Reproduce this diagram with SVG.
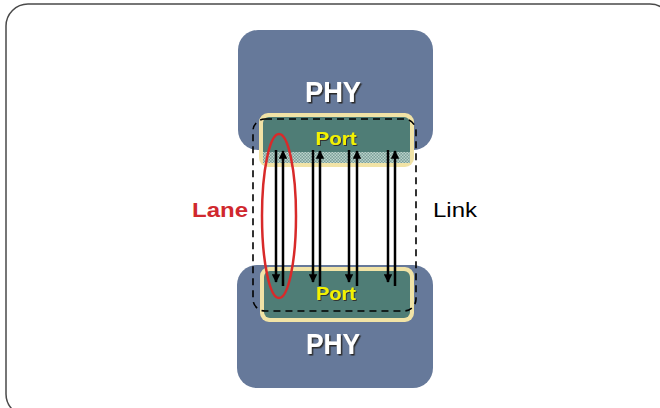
<svg xmlns="http://www.w3.org/2000/svg" width="660" height="408" viewBox="0 0 660 408">
<style>
.phy{fill:#66799a;}
.portOuter{fill:#f1e3a6;}
.portInner{fill:#4f7d76;}
.phyTxt{font-family:"Liberation Sans",Arial,sans-serif;font-weight:bold;font-size:30px;fill:#ffffff;}
.portTxt{font-family:"Liberation Sans",Arial,sans-serif;font-weight:bold;font-size:18px;fill:#f2f200;}
.lbl{font-family:"Liberation Sans",Arial,sans-serif;font-size:21px;}
.ln{stroke:#000;stroke-width:2.5;fill:none;}
</style>
<defs>
<filter id="sh" x="-20%" y="-20%" width="140%" height="140%">
<feDropShadow dx="1.5" dy="1.5" stdDeviation="0.4" flood-color="#2a2a2a" flood-opacity="1"/>
</filter>
<filter id="sh2" x="-20%" y="-20%" width="140%" height="140%">
<feDropShadow dx="1" dy="1" stdDeviation="0.3" flood-color="#333" flood-opacity="1"/>
</filter>
<pattern id="hatch" width="3" height="3" patternUnits="userSpaceOnUse">
<rect width="3" height="3" fill="#7a9f98"/>
<rect width="1.5" height="1.5" fill="#bcd3cc"/>
<rect x="1.5" y="1.5" width="1.5" height="1.5" fill="#bcd3cc"/>
</pattern>
<marker id="ah" viewBox="0 0 10 10" refX="9" refY="5" markerWidth="3.4" markerHeight="3.4" orient="auto" markerUnits="strokeWidth">
<path d="M0,0 L10,5 L0,10 z" fill="#000"/>
</marker>
</defs>

<rect x="6" y="4" width="666" height="412" rx="22" fill="none" stroke="#4a4a4a" stroke-width="1.5"/>

<g id="phy-top">
<rect class="phy" x="238" y="30" width="195" height="120" rx="20"/>
<text class="phyTxt" x="333" y="102" text-anchor="middle" textLength="56" lengthAdjust="spacingAndGlyphs" filter="url(#sh)">PHY</text>
</g>
<g id="phy-bottom">
<rect class="phy" x="237" y="265" width="196" height="123" rx="20"/>
<text class="phyTxt" x="333" y="354" text-anchor="middle" textLength="54" lengthAdjust="spacingAndGlyphs" filter="url(#sh)">PHY</text>
</g>

<g id="port-top">
<rect class="portOuter" x="259" y="113" width="155" height="54" rx="9"/>
<rect class="portInner" x="263" y="117" width="147" height="46" rx="6"/>
<rect x="263" y="152" width="147" height="11" fill="url(#hatch)"/>
<text class="portTxt" x="336" y="145" text-anchor="middle" textLength="41" lengthAdjust="spacingAndGlyphs" filter="url(#sh2)">Port</text>
</g>
<g id="port-bottom">
<rect class="portOuter" x="260" y="267" width="154" height="55" rx="9"/>
<rect class="portInner" x="264" y="271" width="146" height="47" rx="6"/>
<text class="portTxt" x="336" y="300" text-anchor="middle" textLength="40" lengthAdjust="spacingAndGlyphs" filter="url(#sh2)">Port</text>
</g>

<g id="link">
<rect x="253" y="119" width="163" height="192" rx="12" fill="none" stroke="#000" stroke-width="1.6" stroke-dasharray="7,5"/>
<text class="lbl" x="433" y="217" fill="#000" textLength="44" lengthAdjust="spacingAndGlyphs">Link</text>
</g>

<g id="connectors">
<line class="ln" x1="276" y1="150" x2="276" y2="282" marker-end="url(#ah)"/>
<line class="ln" x1="283" y1="286" x2="283" y2="151" marker-end="url(#ah)"/>
<line class="ln" x1="313" y1="150" x2="313" y2="282" marker-end="url(#ah)"/>
<line class="ln" x1="320" y1="286" x2="320" y2="151" marker-end="url(#ah)"/>
<line class="ln" x1="349" y1="150" x2="349" y2="282" marker-end="url(#ah)"/>
<line class="ln" x1="357" y1="286" x2="357" y2="151" marker-end="url(#ah)"/>
<line class="ln" x1="388" y1="150" x2="388" y2="282" marker-end="url(#ah)"/>
<line class="ln" x1="395" y1="286" x2="395" y2="151" marker-end="url(#ah)"/>
</g>

<g id="lane">
<ellipse cx="279" cy="216" rx="17" ry="82" fill="none" stroke="#d82a2a" stroke-width="2.5"/>
<text class="lbl" x="192" y="217" fill="#d0282e" font-weight="bold" textLength="56" lengthAdjust="spacingAndGlyphs">Lane</text>
</g>
</svg>
